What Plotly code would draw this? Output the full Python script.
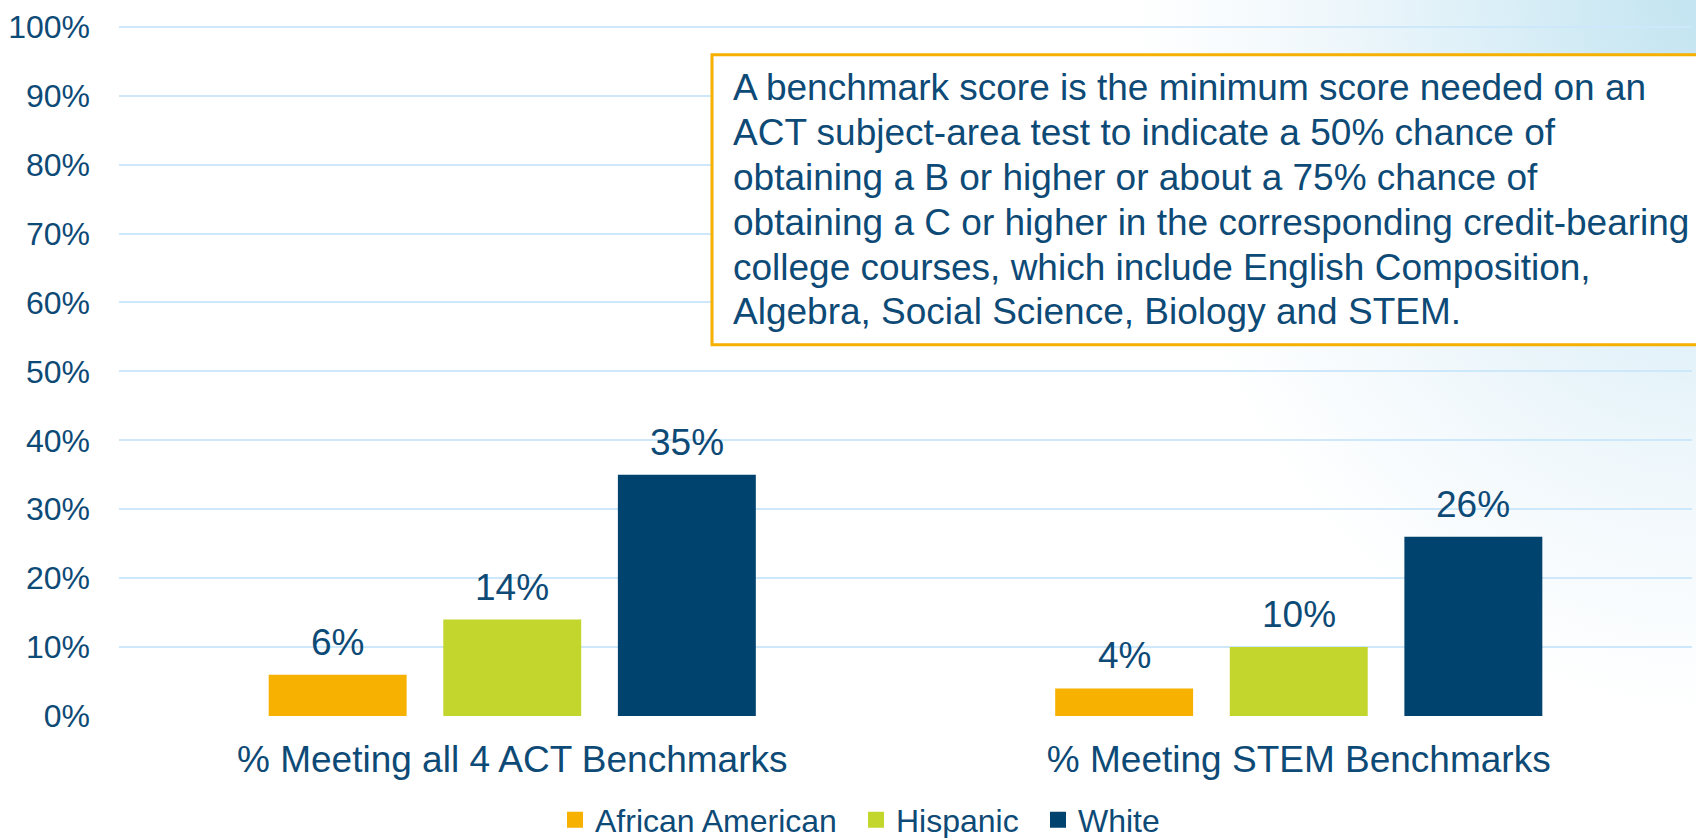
import base64
import plotly.graph_objects as go

# ---- data ----
categories = ["% Meeting all 4 ACT Benchmarks", "% Meeting STEM Benchmarks"]
series_names = ["African American", "Hispanic", "White"]
african_american = [6, 4]
hispanic = [14, 10]
white = [35, 26]
y_tick_values = [0, 10, 20, 30, 40, 50, 60, 70, 80, 90, 100]
y_tick_labels = [f"{v}%" for v in y_tick_values]
note_lines = ["A benchmark score is the minimum score needed on an",
              "ACT subject-area test to indicate a 50% chance of",
              "obtaining a B or higher or about a 75% chance of",
              "obtaining a C or higher in the corresponding credit-bearing",
              "college courses, which include English Composition,",
              "Algebra, Social Science, Biology and STEM."]

# ---- style ----
W, H = 1696, 838
YMAX = 100.4
ML, MR, MB = 119, 4, 122
PH = (H - MB - 27) * YMAX / 100
MT = H - MB - PH
PW = W - ML - MR
FONT = "Arial, 'Liberation Sans', sans-serif"
TXT = "#0e4a76"
GRID = "#cde8fb"
colors = ["#f7b100", "#c2d62e", "#00436e"]
BARGAP = 0.334
BARGROUPGAP = 0.21
legend_item_left = [555, 856, 1038]   # pixel left edge of each legend entry


def py(pix_y):
    """pixel y from top -> paper y"""
    return (MT + PH - pix_y) / PH


def px(pix_x):
    return (pix_x - ML) / PW


series_values = [african_american, hispanic, white]
legend_ids = ["legend", "legend2", "legend3"]

fig = go.Figure()
for name, vals, col, lid in zip(series_names, series_values, colors, legend_ids):
    fig.add_trace(go.Bar(x=categories, y=vals, name=name, marker_color=col,
                         marker_line_width=0, showlegend=False))
    # legend entry with a larger square swatch
    fig.add_trace(go.Scatter(x=[None], y=[None], mode="markers", name=name,
                             legend=lid,
                             marker=dict(symbol="square", size=17, color=col)))

# data labels above bars
slot = (1 - BARGAP) / len(series_names)
for i, vals in enumerate(series_values):
    off = (i - (len(series_names) - 1) / 2) * slot
    for j, v in enumerate(vals):
        fig.add_annotation(x=j + off, y=v, xref="x", yref="y", text=f"{v}%",
                           showarrow=False, yanchor="bottom", yshift=10,
                           font=dict(family=FONT, size=37, color=TXT))

# background gradient (decorative)
cx, cy = W + 20, -10
svg = f'''<svg xmlns="http://www.w3.org/2000/svg" width="{W}" height="{H}" viewBox="0 0 {W} {H}">
<defs><radialGradient id="g" cx="{cx}" cy="{cy}" r="580" gradientUnits="userSpaceOnUse" gradientTransform="translate({cx} {cy}) scale(1 1.25) translate({-cx} {-cy})">
<stop offset="0" stop-color="#c0e3f0"/><stop offset="0.35" stop-color="#d9eef7"/><stop offset="0.7" stop-color="#f1f8fc"/><stop offset="1" stop-color="#ffffff"/>
</radialGradient></defs>
<rect width="{W}" height="{H}" fill="#ffffff"/><rect width="{W}" height="{H}" fill="url(#g)"/></svg>'''
src = "data:image/svg+xml;base64," + base64.b64encode(svg.encode()).decode()
fig.add_layout_image(source=src, xref="paper", yref="paper",
                     x=-ML / PW, y=1 + MT / PH, sizex=W / PW, sizey=H / PH,
                     xanchor="left", yanchor="top", sizing="stretch", layer="below")

# note box
fig.add_shape(type="rect", xref="paper", yref="paper",
              x0=px(712), x1=px(1712), y0=py(345), y1=py(55),
              fillcolor="white", line=dict(color="#f5b000", width=3), layer="above")
LINE_STEP = 44.8
for k, line in enumerate(note_lines):
    fig.add_annotation(xref="paper", yref="paper", x=px(731), y=py(88 + k * LINE_STEP),
                       xanchor="left", yanchor="middle", align="left", showarrow=False,
                       text=line, font=dict(family=FONT, size=37, color=TXT))

legend_common = dict(orientation="h", xanchor="left", yref="container",
                     y=(H - 820) / H, yanchor="middle",
                     font=dict(family=FONT, size=32, color=TXT),
                     bgcolor="rgba(0,0,0,0)", itemclick=False, itemsizing="trace")

fig.update_layout(
    width=W, height=H,
    margin=dict(l=ML, r=MR, t=MT, b=MB, autoexpand=False),
    paper_bgcolor="white", plot_bgcolor="rgba(0,0,0,0)",
    barmode="group", bargap=BARGAP, bargroupgap=BARGROUPGAP,
    font=dict(family=FONT, color=TXT),
    showlegend=True,
    legend=dict(x=px(legend_item_left[0]), **legend_common),
    legend2=dict(x=px(legend_item_left[1]), **legend_common),
    legend3=dict(x=px(legend_item_left[2]), **legend_common),
    xaxis=dict(showgrid=False, showline=False, zeroline=False, ticks="",
               automargin=False,
               tickfont=dict(family=FONT, size=37, color=TXT), ticklabelstandoff=18),
    yaxis=dict(range=[0, YMAX], tickvals=y_tick_values, ticktext=y_tick_labels,
               showgrid=True, gridcolor=GRID, gridwidth=2, zeroline=False,
               showline=False, ticks="", ticklabelstandoff=28, automargin=False,
               tickfont=dict(family=FONT, size=32, color=TXT)),
)

fig.write_html("out.html", config={"displayModeBar": False},
               post_script="document.body.style.margin='0';document.body.style.overflow='hidden';")
